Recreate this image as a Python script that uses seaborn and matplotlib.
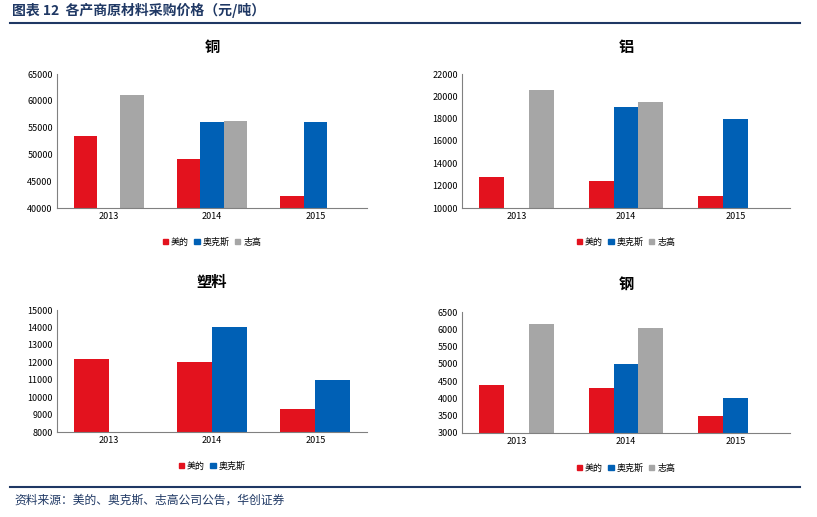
import numpy as np, pandas as pd
import matplotlib
matplotlib.use("Agg")
import matplotlib.pyplot as plt
import seaborn as sns
from matplotlib.patches import Patch

plt.rcParams["font.family"] = "Noto Sans CJK SC"

years = ["2013", "2014", "2015"]
brands3 = ["美的", "奥克斯", "志高"]
brands2 = ["美的", "奥克斯"]
copper = {"美的": [53500, 49200, 42300], "奥克斯": [np.nan, 56000, 56000], "志高": [61000, 56300, np.nan]}
alum = {"美的": [12800, 12400, 11100], "奥克斯": [np.nan, 19000, 18000], "志高": [20600, 19500, np.nan]}
plastic = {"美的": [12200, 12000, 9300], "奥克斯": [np.nan, 14000, 11000]}
steel = {"美的": [4400, 4300, 3500], "奥克斯": [np.nan, 5000, 4000], "志高": [6150, 6050, np.nan]}
colors = {"美的": "#E3121E", "奥克斯": "#0060B5", "志高": "#A6A6A6"}

W, H = 817, 517
fig = plt.figure(figsize=(W/100, H/100), dpi=100)

def rect(x0, y0, x1, y1):
    return [x0/W, 1-y1/H, (x1-x0)/W, (y1-y0)/H]

panels = [
    ("铜", copper, brands3, (40000, 65000, 5000), rect(57, 74, 367, 208), 47, 212, 242),
    ("铝", alum, brands3, (10000, 22000, 2000), rect(462, 74, 790, 208), 47, 626, 242),
    ("塑料", plastic, brands2, (8000, 15000, 1000), rect(57, 310, 367, 432), 282, 212, 466),
    ("钢", steel, brands3, (3000, 6500, 500), rect(462, 312, 790, 433), 284, 626, 468),
]
for title, data, brands, (lo, hi, st), r, ty, lx, ly in panels:
    ax = fig.add_axes(r)
    df = pd.DataFrame([(y, b, data[b][i]) for b in brands for i, y in enumerate(years)],
                      columns=["year", "brand", "v"])
    sns.barplot(data=df, x="year", y="v", hue="brand", hue_order=brands, order=years,
                palette=colors, ax=ax, width=0.68, saturation=1, legend=False)
    ax.set_ylim(lo, hi)
    ax.set_yticks(np.arange(lo, hi + 1, st))
    ax.tick_params(labelsize=6.5, length=0, pad=3)
    ax.set_xlabel(""); ax.set_ylabel("")
    for s in ["top", "right"]:
        ax.spines[s].set_visible(False)
    for s in ["left", "bottom"]:
        ax.spines[s].set_color("#808080"); ax.spines[s].set_linewidth(0.8)
    cx = (r[0] + r[2]/2)
    fig.text(cx, 1-ty/H, title, ha="center", va="center", fontsize=11, fontweight="bold")
    handles = [Patch(color=colors[b], label=b) for b in brands]
    fig.legend(handles=handles, loc="center", bbox_to_anchor=(lx/W, 1-ly/H), ncol=len(brands),
               frameon=False, fontsize=6.5, handlelength=0.6, handleheight=0.6,
               handletextpad=0.3, columnspacing=0.6)

fig.text(12/W, 1-10/H, "图表 12  各产商原材料采购价格（元/吨）", fontsize=10, fontweight="bold",
         color="#1F3864", va="center")
fig.add_artist(plt.Line2D([10/W, 800/W], [1-23/H, 1-23/H], color="#1F3864", lw=1.5))
fig.add_artist(plt.Line2D([10/W, 800/W], [1-487/H, 1-487/H], color="#1F3864", lw=1.5))
fig.text(14/W, 1-500/H, "资料来源：美的、奥克斯、志高公司公告，华创证券", fontsize=8.5,
         color="#1F3864", style="italic", va="center")
fig.savefig("out.png", dpi=100)
